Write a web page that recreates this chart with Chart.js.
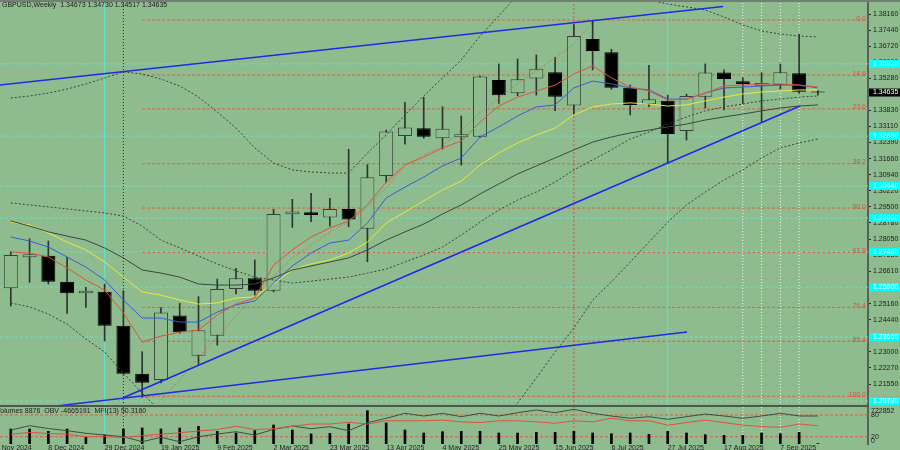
<!DOCTYPE html>
<html>
<head>
<meta charset="utf-8">
<script src="https://cdn.jsdelivr.net/npm/chart.js@4.4.1/dist/chart.umd.min.js"></script>
<style>
html, body { margin: 0; padding: 0; background: #8fbc8f; }
#wrap { position: relative; width: 900px; height: 450px; overflow: hidden; }
canvas { position: absolute; left: 0; }
#main { top: 0; }
#ind { top: 406px; }
</style>
</head>
<body>
<div id="wrap">
  <canvas id="main" width="900" height="406"></canvas>
  <canvas id="ind" width="900" height="44"></canvas>
</div>
<script>
// GBPUSD weekly, one entry per week
const weeks = ['2024-11-24','2024-12-01','2024-12-08','2024-12-15','2024-12-22','2024-12-29','2025-01-05','2025-01-12','2025-01-19','2025-01-26','2025-02-02','2025-02-09','2025-02-16','2025-02-23','2025-03-02','2025-03-09','2025-03-16','2025-03-23','2025-03-30','2025-04-06','2025-04-13','2025-04-20','2025-04-27','2025-05-04','2025-05-11','2025-05-18','2025-05-25','2025-06-01','2025-06-08','2025-06-15','2025-06-22','2025-06-29','2025-07-06','2025-07-13','2025-07-20','2025-07-27','2025-08-03','2025-08-10','2025-08-17','2025-08-24','2025-08-31','2025-09-07','2025-09-14','2025-09-21'];

const opens  = [1.2585,1.2724,1.2731,1.2614,1.2562,1.2569,1.2417,1.2201,1.2173,1.2463,1.2282,1.2372,1.2582,1.2630,1.2574,1.2917,1.2926,1.2902,1.2941,1.2852,1.3089,1.3268,1.3303,1.3258,1.3263,1.3265,1.3520,1.3460,1.3527,1.3554,1.3405,1.3704,1.3644,1.3485,1.3411,1.3427,1.3291,1.3445,1.3553,1.3514,1.3494,1.3497,1.3550,1.34673];
const highs  = [1.2749,1.2807,1.2797,1.2724,1.2589,1.2604,1.2574,1.2300,1.2498,1.2517,1.2547,1.2626,1.2674,1.2712,1.2939,1.2984,1.3011,1.2989,1.3209,1.3140,1.3295,1.3420,1.3442,1.3400,1.3358,1.3538,1.3592,1.3614,1.3632,1.3622,1.3769,1.3786,1.3658,1.3497,1.3586,1.3452,1.3456,1.3592,1.3565,1.3530,1.3553,1.3592,1.3726,1.34730];
const lows   = [1.2505,1.2611,1.2604,1.2472,1.2499,1.2348,1.2199,1.2095,1.2160,1.2383,1.2243,1.2329,1.2559,1.2555,1.2568,1.2858,1.2884,1.2864,1.2861,1.2704,1.3060,1.3232,1.3258,1.3210,1.3138,1.3262,1.3415,1.3449,1.3452,1.3382,1.3365,1.3565,1.3478,1.3363,1.3400,1.3146,1.3250,1.3394,1.3385,1.3415,1.3333,1.3479,1.3460,1.34517];
const closes = [1.2734,1.2737,1.2614,1.2562,1.2574,1.2417,1.2201,1.2161,1.2476,1.2387,1.2396,1.2582,1.2630,1.2574,1.2918,1.2929,1.2914,1.2941,1.2893,1.3083,1.3289,1.3306,1.3265,1.3301,1.3276,1.3535,1.3451,1.3523,1.3570,1.3445,1.3717,1.3650,1.3485,1.3407,1.3433,1.3277,1.3448,1.3553,1.3524,1.3502,1.3506,1.3554,1.3467,1.34635];

// moving averages and bands
const maRed    = [1.2748,1.2743,1.2725,1.2676,1.2622,1.2577,1.2474,1.2343,1.2370,1.2388,1.2397,1.2465,1.2514,1.2541,1.2689,1.2757,1.2815,1.2855,1.2887,1.2959,1.3062,1.3138,1.3174,1.3215,1.3246,1.3331,1.3403,1.3443,1.3470,1.3497,1.3547,1.3583,1.3529,1.3488,1.3470,1.3430,1.3434,1.3461,1.3493,1.3497,1.3502,1.3502,1.3497,1.3488];
const maBlue   = [1.2815,1.2797,1.2770,1.2725,1.2680,1.2622,1.2532,1.2451,1.2451,1.2433,1.2433,1.2478,1.2510,1.2528,1.2608,1.2685,1.2743,1.2788,1.2801,1.2878,1.2990,1.3039,1.3084,1.3134,1.3170,1.3264,1.3309,1.3358,1.3399,1.3408,1.3484,1.3515,1.3502,1.3484,1.3475,1.3434,1.3434,1.3461,1.3484,1.3488,1.3493,1.3497,1.3497,1.3484];
const maYellow = [1.2882,1.2869,1.2833,1.2792,1.2757,1.2703,1.2635,1.2568,1.2554,1.2532,1.2514,1.2519,1.2541,1.2546,1.2604,1.2667,1.2694,1.2712,1.2743,1.2792,1.2878,1.2927,1.2977,1.3026,1.3066,1.3138,1.3192,1.3237,1.3273,1.3304,1.3363,1.3399,1.3412,1.3417,1.3412,1.3403,1.3408,1.3426,1.3443,1.3457,1.3466,1.3470,1.3475,1.3475];
const maGray   = [1.2887,1.2864,1.2838,1.2819,1.2801,1.2766,1.2721,1.2667,1.2653,1.2635,1.2604,1.2599,1.2599,1.2604,1.2631,1.2667,1.2685,1.2703,1.2721,1.2757,1.2801,1.2838,1.2873,1.2918,1.2959,1.3008,1.3053,1.3098,1.3134,1.3170,1.3206,1.3241,1.3264,1.3282,1.3295,1.3309,1.3322,1.3340,1.3354,1.3367,1.3381,1.3394,1.3403,1.3408];
const bandUpper = [1.3439,1.3448,1.3461,1.3479,1.3502,1.3529,1.3556,1.3547,1.3524,1.3493,1.3443,1.3376,1.3304,1.3215,1.3147,1.3116,1.3107,1.3102,1.3102,1.3192,1.3273,1.3363,1.3448,1.3529,1.3610,1.3717,1.3807,1.3901,1.3942,1.3969,1.3987,1.3987,1.3960,1.3915,1.3879,1.3861,1.3848,1.3834,1.3803,1.3767,1.3740,1.3726,1.3717,1.3713];
const bandLower = [1.2519,1.2501,1.2469,1.2424,1.2357,1.2299,1.2204,1.2114,1.2029,1.1971,1.1939,1.1926,1.1912,1.1903,1.1881,1.1859,1.1836,1.1823,1.1805,1.1769,1.1724,1.1701,1.1724,1.1769,1.1836,1.1903,1.1984,1.2070,1.2182,1.2299,1.2406,1.2532,1.2613,1.2703,1.2792,1.2882,1.2959,1.3017,1.3071,1.3116,1.3170,1.3215,1.3237,1.3255];
const bandMid   = [1.2968,1.2959,1.2950,1.2941,1.2932,1.2923,1.2909,1.2864,1.2801,1.2766,1.2730,1.2694,1.2663,1.2635,1.2622,1.2608,1.2617,1.2626,1.2635,1.2653,1.2671,1.2703,1.2734,1.2770,1.2824,1.2882,1.2936,1.2981,1.3017,1.3062,1.3116,1.3161,1.3206,1.3255,1.3286,1.3322,1.3354,1.3381,1.3399,1.3412,1.3426,1.3434,1.3443,1.3448];
const redDots   = [null,null,null,null,null,null,null,null,1.2083,1.2173,1.2276,1.2366,1.2460,1.2550,1.2640,1.2721,1.2779,1.2838,1.2882,1.2950,1.3035,1.3138,1.3183,1.3223,1.3295,1.3372,1.3439,1.3502,1.3560,1.3619,1.3681,1.3780,null,null,null,null,null,null,null,null,null,null,null,null];

// lower panel
const volumes = [296000,296000,249000,296000,130000,178000,296000,316000,296000,316000,348000,249000,217000,263000,375000,276000,198000,209000,395000,658000,415000,276000,217000,243000,249000,249000,217000,217000,229000,229000,249000,217000,203000,217000,190000,249000,217000,184000,170000,170000,217000,203000,229000,8876];
const obv = [-6065,-5635,-5915,-6135,-6395,-6565,-6735,-7235,-6795,-7235,-6735,-6465,-6235,-6565,-5995,-5665,-5935,-5735,-6135,-5335,-4895,-4395,-4665,-4395,-4735,-4395,-4665,-4335,-4065,-4335,-3995,-4395,-4665,-4895,-4735,-4995,-4735,-4465,-4665,-4895,-4665,-4395,-4665,-4665];
const mfi = [27,32,29,27,20,20,18,23,27,31,36,40,49,40,42,49,55,55,60,55,64,64,64,66,61,59,64,64,61,57,64,61,71,64,64,52,59,66,59,52,48,46,55,50.3];
const mfiLevels = [80, 20];

// axes
const dateTicks = [-1,2,5,8,11,14,17,20,23,26,29,32,35,38,41];
const dateLabels = ['17 Nov 2024','8 Dec 2024','29 Dec 2024','19 Jan 2025','9 Feb 2025','2 Mar 2025','23 Mar 2025','13 Apr 2025','4 May 2025','25 May 2025','15 Jun 2025','6 Jul 2025','27 Jul 2025','17 Aug 2025','7 Sep 2025'];
const priceTicks = [1.38160,1.37440,1.36720,1.36000,1.35280,1.34560,1.33830,1.33110,1.32390,1.31660,1.30940,1.30220,1.29500,1.28780,1.28050,1.27330,1.26610,1.25880,1.25160,1.24440,1.23720,1.23000,1.22270,1.21550,1.20830];
const indTicks = [8, 20, 80, 92];
const indTickLabels = ['0', '20', '80', '722852'];

// drawn objects
const fibLevels = [1.3789,1.3542,1.3390,1.3144,1.2945,1.2745,1.2499,1.2347,1.2100];
const fibLabels = ['0.0','14.6','23.6','38.2','50.0','61.8','76.4','85.4','100.0'];
const fibStart = 7;
const cyanLevels = [1.3592,1.3268,1.3044,1.2900,1.2748,1.2590,1.2366,1.2078];
const trendUpper = [[-0.575,1.34973],[37.95,1.38497]];
const trendLower = [[2.09,1.20532],[36.03,1.23885]];
const trendSupport = [[5.99,1.20936],[42.05,1.34030]];
const vCyan = [5, 35];
const vDark = [6];
const vRed = [30];
const vWhite = [39, 40, 41, 42];

const X_MIN = -0.575, X_MAX = 45.67;
const Y_MIN = 1.20563, Y_MAX = 1.38699;

const BG = '#8fbc8f';
const TXT = '#1c1c1c';
const AXIS = '#56625a';
const FONT = '"Liberation Sans", Arial, sans-serif';

Chart.defaults.font.family = FONT;
Chart.defaults.font.size = 7;

const xy = arr => arr.map((v, i) => ({x: i, y: v})).filter(p => p.y !== null);
const hLine = (v, from) => [{x: from, y: v}, {x: X_MAX, y: v}];
const seg = pts => pts.map(p => ({x: p[0], y: p[1]}));

function line(data, color, extra) {
    return Object.assign({type: 'line', data: data, borderColor: color, borderWidth: 1,
        pointRadius: 0, tension: 0, fill: false}, extra || {});
}

function verticals(lo, hi, yAxisID) {
    const out = [];
    const add = (list, color, dash) => list.forEach(i => out.push(line([{x: i, y: lo}, {x: i, y: hi}], color,
        {borderDash: dash, order: 20, yAxisID: yAxisID})));
    add(vCyan, '#5fe3d3', []);
    add(vDark, '#26302a', [1, 2]);
    add(vRed, '#e8463a', [2, 2]);
    add(vWhite, 'rgba(255,255,255,0.9)', [1, 2]);
    return out;
}

// ---------- main price panel ----------
const mainSets = [];
cyanLevels.forEach(v => mainSets.push(line(hLine(v, X_MIN), '#6fdcc4', {borderDash: [3, 2], order: 21})));
fibLevels.forEach(v => mainSets.push(line(hLine(v, fibStart), '#e05a46', {borderDash: [3, 2], order: 21})));
verticals(Y_MIN, Y_MAX, 'y').forEach(d => mainSets.push(d));

mainSets.push({
    type: 'bar', order: 9, grouped: false, barThickness: 1,
    data: weeks.map((_, i) => ({x: i, y: [lows[i], highs[i]]})),
    backgroundColor: '#2c352e'
});
mainSets.push({
    type: 'bar', order: 8, grouped: false, barThickness: 14, minBarLength: 1,
    borderWidth: 1, borderSkipped: false, inflateAmount: 0,
    data: weeks.map((_, i) => ({x: i, y: [opens[i], closes[i]]})),
    backgroundColor: closes.map((c, i) => c >= opens[i] ? BG : '#000000'),
    borderColor: closes.map((c, i) => c >= opens[i] ? '#36423a' : '#000000')
});

mainSets.push(line(xy(bandUpper), '#36463a', {borderDash: [2, 2], order: 5}));
mainSets.push(line(xy(bandLower), '#36463a', {borderDash: [2, 2], order: 5}));
mainSets.push(line(xy(bandMid), '#36463a', {borderDash: [2, 2], order: 5}));
mainSets.push(line(xy(maGray), '#3a4a3e', {order: 4}));
mainSets.push(line(xy(maYellow), '#e8e83c', {order: 4}));
mainSets.push(line(xy(maBlue), '#3b5bd6', {order: 3}));
mainSets.push(line(xy(maRed), '#e0533a', {order: 2}));
mainSets.push(line(xy(redDots), '#e0503c', {borderDash: [1, 2], order: 2}));
[trendUpper, trendLower, trendSupport].forEach(t =>
    mainSets.push(line(seg(t), '#1f2be6', {borderWidth: 1.6, order: 1})));

const mainOverlay = {
    id: 'mainOverlay',
    afterDraw(chart) {
        const ctx = chart.ctx, a = chart.chartArea, y = chart.scales.y;
        ctx.save();
        ctx.font = '7px ' + FONT;

        // fibonacci captions
        ctx.fillStyle = '#e0503c';
        ctx.textAlign = 'right';
        ctx.textBaseline = 'alphabetic';
        fibLevels.forEach((v, k) => ctx.fillText(fibLabels[k], a.right - 2, y.getPixelForValue(v) + 0.5));

        // price tags on the axis
        ctx.textAlign = 'left';
        ctx.textBaseline = 'middle';
        cyanLevels.forEach(v => {
            const py = y.getPixelForValue(v);
            ctx.fillStyle = '#00ffff';
            ctx.fillRect(a.right + 1, py - 4, 32, 8);
            ctx.fillStyle = '#ffffff';
            ctx.fillText(v.toFixed(5), a.right + 5, py);
        });
        const last = closes[closes.length - 1];
        const pl = y.getPixelForValue(last);
        ctx.fillStyle = '#000000';
        ctx.fillRect(a.right + 1, pl - 4, 32, 8);
        ctx.fillStyle = '#ffffff';
        ctx.fillText(last.toFixed(5), a.right + 5, pl);

        // frame
        ctx.fillStyle = '#767c76';
        ctx.fillRect(0, 0, 900, 2);
        ctx.fillStyle = '#4c584e';
        ctx.fillRect(0, 405, a.right, 1);

        // title
        ctx.fillStyle = TXT;
        ctx.fillText('GBPUSD,Weekly  ' + [opens, highs, lows, closes].map(s => s[s.length - 1].toFixed(5)).join(' '), 2, 5);
        ctx.restore();
    }
};

new Chart(document.getElementById('main'), {
    type: 'bar',
    data: {datasets: mainSets},
    options: {
        responsive: false,
        animation: false,
        events: [],
        layout: {padding: {top: 2, left: 0, right: 0, bottom: 0}},
        plugins: {legend: {display: false}, tooltip: {enabled: false}},
        scales: {
            x: {type: 'linear', min: X_MIN, max: X_MAX, offset: false, display: false},
            y: {
                position: 'right', min: Y_MIN, max: Y_MAX,
                afterFit: s => { s.width = 32; s.paddingTop = 0; s.paddingBottom = 0; },
                afterBuildTicks: s => { s.ticks = priceTicks.map(v => ({value: v})); },
                ticks: {callback: v => v.toFixed(5), autoSkip: false, padding: 2, color: TXT},
                grid: {drawOnChartArea: false, drawTicks: true, tickLength: 3, color: '#2a2a2a'},
                border: {color: AXIS, width: 2}
            }
        }
    },
    plugins: [mainOverlay]
});

// ---------- volumes / OBV / MFI panel ----------
const indSets = [];
verticals(0, 102, 'y').forEach(d => indSets.push(d));
mfiLevels.forEach(v => indSets.push(line(hLine(v, X_MIN), '#e05a46', {borderDash: [3, 2], order: 19, yAxisID: 'y'})));
indSets.push({
    type: 'bar', order: 10, grouped: false, barThickness: 2, yAxisID: 'yv',
    data: xy(volumes), backgroundColor: '#000000'
});
indSets.push(line(xy(obv), '#3e4e42', {yAxisID: 'yobv', order: 3}));
indSets.push(line(xy(mfi), '#e0503c', {yAxisID: 'y', order: 2}));

const indOverlay = {
    id: 'indOverlay',
    afterDraw(chart) {
        const ctx = chart.ctx, a = chart.chartArea;
        ctx.save();
        ctx.fillStyle = '#4c584e';
        ctx.fillRect(0, 0, a.right, 1);
        ctx.font = '7px ' + FONT;
        ctx.fillStyle = TXT;
        ctx.textAlign = 'left';
        ctx.textBaseline = 'middle';
        ctx.fillText('Volumes ' + volumes[volumes.length - 1] + '  OBV -4665191  MFI(13) 50.3160', -4, 5.5);
        ctx.restore();
    }
};

new Chart(document.getElementById('ind'), {
    type: 'bar',
    data: {datasets: indSets},
    options: {
        responsive: false,
        animation: false,
        events: [],
        layout: {padding: {top: 1, left: 0, right: 0, bottom: 0}},
        plugins: {legend: {display: false}, tooltip: {enabled: false}},
        scales: {
            x: {
                type: 'linear', min: X_MIN, max: X_MAX, position: 'bottom', offset: false,
                afterFit: s => { s.height = 6; s.paddingLeft = 0; s.paddingRight = 0; },
                afterBuildTicks: s => { s.ticks = dateTicks.map(v => ({value: v})); },
                ticks: {callback: (v, k) => dateLabels[k], align: 'start', autoSkip: false,
                        maxRotation: 0, minRotation: 0, padding: 0, color: TXT},
                grid: {display: false, drawTicks: false, offset: false},
                border: {display: false}
            },
            yv: {min: 0, max: 730000, display: false},
            yobv: {min: -7465, max: -3765, display: false},
            y: {
                position: 'right', min: 0, max: 102,
                afterFit: s => { s.width = 32; s.paddingTop = 0; s.paddingBottom = 0; },
                afterBuildTicks: s => { s.ticks = indTicks.map(v => ({value: v})); },
                ticks: {callback: (v, k) => indTickLabels[k], autoSkip: false, padding: 3, color: TXT},
                grid: {drawOnChartArea: false, drawTicks: false},
                border: {color: AXIS, width: 2}
            }
        }
    },
    plugins: [indOverlay]
});
</script>
</body>
</html>
